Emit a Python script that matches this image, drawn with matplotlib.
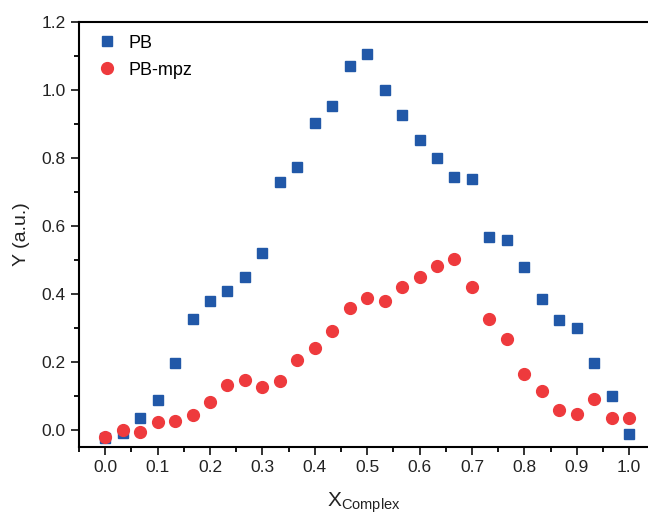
import matplotlib
matplotlib.use("Agg")
import matplotlib.pyplot as plt
import numpy as np
from matplotlib.ticker import MultipleLocator

x = [i / 30 for i in range(31)]
pb = [-0.024, -0.008, 0.034, 0.089, 0.198, 0.327, 0.380, 0.409, 0.451, 0.522,
      0.730, 0.774, 0.903, 0.953, 1.071, 1.105, 0.999, 0.926, 0.852, 0.800,
      0.744, 0.737, 0.569, 0.560, 0.478, 0.384, 0.324, 0.299, 0.198, 0.101, -0.012]
pb_mpz = [-0.020, 0.000, -0.006, 0.023, 0.026, 0.045, 0.081, 0.131, 0.146, 0.126,
          0.144, 0.205, 0.240, 0.291, 0.358, 0.387, 0.380, 0.420, 0.451, 0.482,
          0.502, 0.420, 0.326, 0.268, 0.164, 0.115, 0.060, 0.046, 0.090, 0.036, 0.035]

plt.rcParams['font.family'] = ['Liberation Sans', 'DejaVu Sans']
plt.rcParams['mathtext.fontset'] = 'custom'
plt.rcParams['mathtext.rm'] = 'Liberation Sans'

fig = plt.figure(figsize=(6.48, 5.17), dpi=100)
ax = fig.add_axes([79/648, (517-447)/517, (648-79)/648, (447-22)/517])

ax.plot(x, pb, linestyle='none', marker='s', ms=7, color='#2158a8', label='PB')
ax.plot(x, pb_mpz, linestyle='none', marker='o', ms=8.5, color='#ee3a3d', label='PB-mpz')

ax.set_xlim(-0.05, 1.036)
ax.set_ylim(-0.05, 1.2)
ax.xaxis.set_major_locator(MultipleLocator(0.1))
ax.xaxis.set_minor_locator(MultipleLocator(0.05))
ax.yaxis.set_major_locator(MultipleLocator(0.2))
ax.yaxis.set_minor_locator(MultipleLocator(0.1))
ax.xaxis.set_major_formatter(plt.FuncFormatter(lambda v, p: f"{v:.1f}"))
ax.yaxis.set_major_formatter(plt.FuncFormatter(lambda v, p: f"{v:.1f}"))

for s in ['left', 'bottom', 'top']:
    ax.spines[s].set_linewidth(1.5)
ax.spines['right'].set_visible(False)
ax.tick_params(which='major', direction='out', length=6, width=1.3, labelsize=12.5,
               top=False, right=False, colors='#222222')
ax.tick_params(which='minor', direction='out', length=3.5, width=1.3, top=False, right=False)

ax.set_xlabel(r'X$_{\mathrm{Complex}}$', fontsize=15, labelpad=11, color='#222222')
ax.set_ylabel('Y (a.u.)', fontsize=14, labelpad=8, color='#222222')

ax.legend(loc='upper left', frameon=False, fontsize=13, handletextpad=0.6,
          borderaxespad=0.3, labelspacing=0.55, handlelength=1.2,
          bbox_to_anchor=(0.008, 1.0))

fig.savefig('out.png', dpi=100)
